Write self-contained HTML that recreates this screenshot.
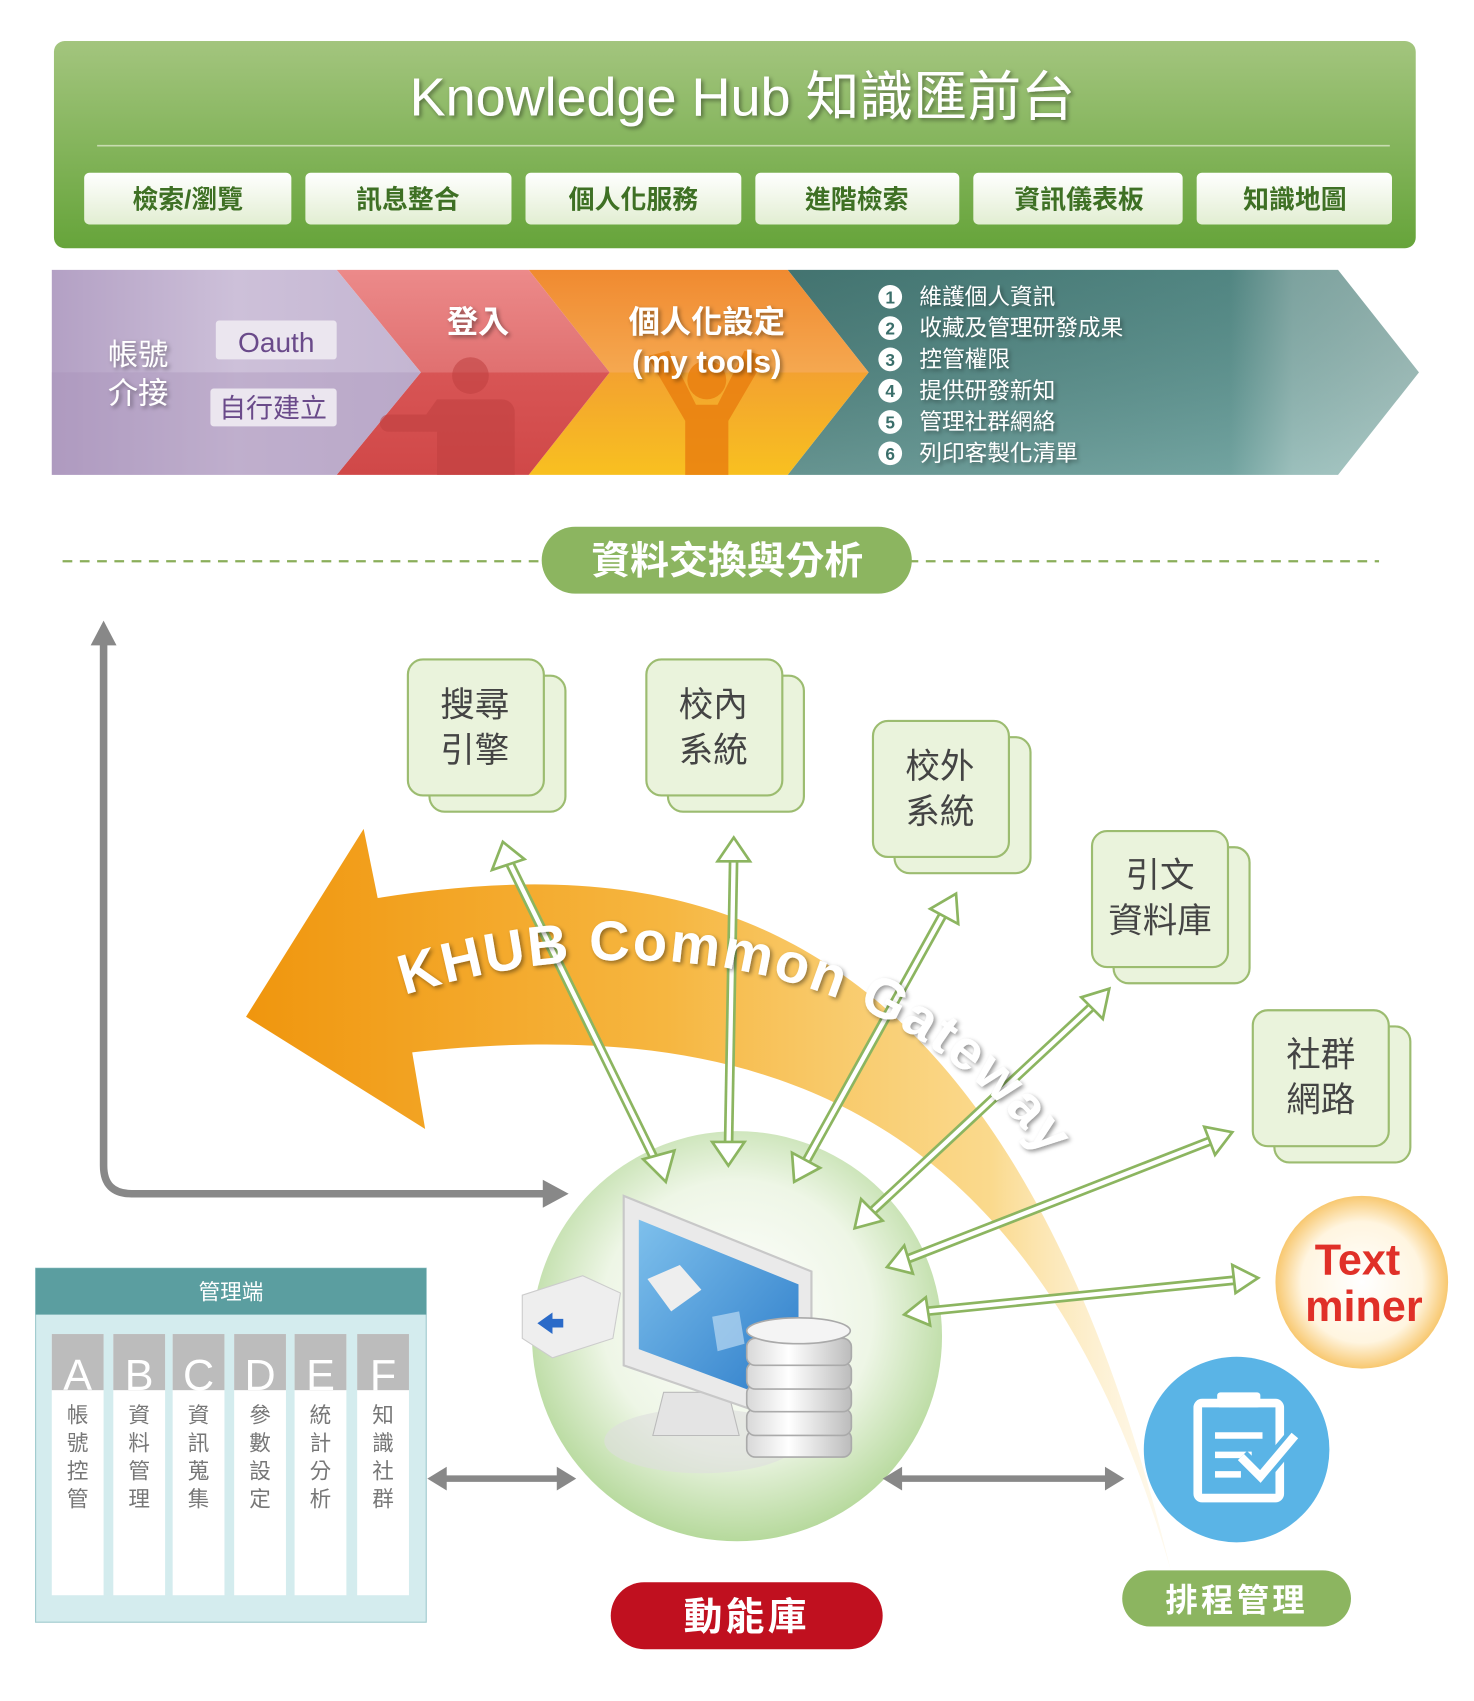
<!DOCTYPE html>
<html><head><meta charset="utf-8">
<style>
html,body{margin:0;padding:0;background:#fff;}
svg{display:block;}
text{font-family:"Liberation Sans","Noto Sans CJK TC",sans-serif;}
</style></head>
<body>
<svg width="1474" height="1701" viewBox="0 0 1366 1576" preserveAspectRatio="none" xmlns="http://www.w3.org/2000/svg">
<defs>
<linearGradient id="hdr" x1="0" y1="0" x2="0" y2="1"><stop offset="0" stop-color="#a3c57e"/><stop offset="1" stop-color="#66a43a"/></linearGradient>
<linearGradient id="btn" x1="0" y1="0" x2="0" y2="1"><stop offset="0" stop-color="#ffffff"/><stop offset="1" stop-color="#e2eed2"/></linearGradient>
<linearGradient id="pur" x1="0" y1="0" x2="1" y2="0"><stop offset="0" stop-color="#b3a0c4"/><stop offset="0.5" stop-color="#cdc0d9"/><stop offset="1" stop-color="#c4b6d2"/></linearGradient>
<linearGradient id="red" x1="0" y1="0" x2="0" y2="1"><stop offset="0" stop-color="#ec8a8a"/><stop offset="0.5" stop-color="#e07070"/><stop offset="0.5" stop-color="#d85555"/><stop offset="1" stop-color="#d04848"/></linearGradient>
<linearGradient id="org" x1="0" y1="0" x2="0" y2="1"><stop offset="0" stop-color="#f08a30"/><stop offset="0.5" stop-color="#f5a850"/><stop offset="0.5" stop-color="#f3a230"/><stop offset="1" stop-color="#f8c020"/></linearGradient>
<linearGradient id="teal" x1="0" y1="0" x2="1" y2="0"><stop offset="0" stop-color="#4a807c"/><stop offset="0.7" stop-color="#5a9490"/><stop offset="0.8" stop-color="#8ab4b0"/><stop offset="1" stop-color="#9ec0bc"/></linearGradient>
<linearGradient id="tealv" x1="0" y1="0" x2="0" y2="1"><stop offset="0" stop-color="#000" stop-opacity="0.1"/><stop offset="1" stop-color="#fff" stop-opacity="0.15"/></linearGradient>
<linearGradient id="arc" x1="230" y1="0" x2="1090" y2="0" gradientUnits="userSpaceOnUse"><stop offset="0" stop-color="#f0960e"/><stop offset="0.45" stop-color="#f6b640"/><stop offset="0.8" stop-color="#f9d070" stop-opacity="0.8"/><stop offset="1" stop-color="#fdf0d0" stop-opacity="0.3"/></linearGradient>
<radialGradient id="sph" cx="0.5" cy="0.45" r="0.55"><stop offset="0" stop-color="#ffffff"/><stop offset="0.6" stop-color="#eef6e6"/><stop offset="1" stop-color="#b6d99c"/></radialGradient>
<radialGradient id="tm" cx="0.5" cy="0.5" r="0.5"><stop offset="0" stop-color="#ffffff"/><stop offset="0.7" stop-color="#fff5e0"/><stop offset="1" stop-color="#f8c870"/></radialGradient>
<linearGradient id="scr" x1="0" y1="0" x2="1" y2="1"><stop offset="0" stop-color="#7ec0ec"/><stop offset="1" stop-color="#2a7ac8"/></linearGradient>
<linearGradient id="db" x1="0" y1="0" x2="1" y2="0"><stop offset="0" stop-color="#d8d8d8"/><stop offset="0.4" stop-color="#ffffff"/><stop offset="1" stop-color="#bcbcbc"/></linearGradient>
<filter id="sh" x="-10%" y="-20%" width="120%" height="140%"><feDropShadow dx="2" dy="2" stdDeviation="2" flood-color="#000" flood-opacity="0.4"/></filter>
<path id="tp" d="M 375,922 C 600,850 870,890 1000,1120"/>
</defs>

<rect x="50" y="38" width="1262" height="192" rx="10" fill="url(#hdr)"/>
<text x="688" y="107" font-size="50" fill="#fff" text-anchor="middle" filter="url(#sh)">Knowledge Hub  知識匯前台</text>
<line x1="90" y1="135" x2="1288" y2="135" stroke="#c8dcb0" stroke-width="1.5"/>
<g font-size="24" font-weight="bold" fill="#3e7024" text-anchor="middle">
<rect x="78" y="160" width="192" height="48" rx="5" fill="url(#btn)"/><text x="174" y="193">檢索/瀏覽</text>
<rect x="283" y="160" width="191" height="48" rx="5" fill="url(#btn)"/><text x="378" y="193">訊息整合</text>
<rect x="487" y="160" width="200" height="48" rx="5" fill="url(#btn)"/><text x="587" y="193">個人化服務</text>
<rect x="700" y="160" width="189" height="48" rx="5" fill="url(#btn)"/><text x="794" y="193">進階檢索</text>
<rect x="902" y="160" width="194" height="48" rx="5" fill="url(#btn)"/><text x="1000" y="193">資訊儀表板</text>
<rect x="1109" y="160" width="181" height="48" rx="5" fill="url(#btn)"/><text x="1200" y="193">知識地圖</text>
</g>

<polygon points="730,250 1240,250 1315,345 1240,440 730,440 805,345" fill="url(#teal)"/>
<polygon points="730,250 1240,250 1315,345 1240,440 730,440 805,345" fill="url(#tealv)"/>
<polygon points="490,250 730,250 805,345 730,440 490,440 565,345" fill="url(#org)"/>
<polygon points="312,250 490,250 565,345 490,440 312,440 390,345" fill="url(#red)"/>
<polygon points="48,250 312,250 390,345 312,440 48,440" fill="url(#pur)"/>
<polygon points="48,345 390,345 312,440 48,440" fill="#a58fb8" opacity="0.35"/>
<g fill="#c04040" opacity="0.55"><circle cx="436" cy="348" r="17"/><path d="M405,370 h60 a12 12 0 0 1 12 12 v58 h-72 v-40 h-45 a8 8 0 0 1 0 -16 h35 z"/></g>
<g fill="#ea8010" opacity="0.85"><circle cx="655" cy="352" r="18"/><path d="M600,330 l20,-5 l25,50 h20 l25,-50 l20,5 l-35,60 v50 h-40 v-50 z"/></g>
<g fill="#fff" font-size="28" text-anchor="middle" filter="url(#sh)">
<text x="128" y="338">帳號</text><text x="128" y="374">介接</text></g>
<rect x="200" y="297" width="112" height="36" rx="3" fill="#ebe6ef"/>
<rect x="195" y="360" width="117" height="35" rx="3" fill="#ebe6ef"/>
<text x="256" y="326" font-size="26" fill="#6a4a8a" text-anchor="middle">Oauth</text>
<text x="253" y="387" font-size="25" fill="#6a4a8a" text-anchor="middle">自行建立</text>
<g fill="#fff" font-size="29" text-anchor="middle" font-weight="bold" filter="url(#sh)">
<text x="443" y="308">登入</text><text x="655" y="308">個人化設定</text><text x="655" y="345">(my tools)</text></g>
<g font-size="21" fill="#fff">
<g fill="#fff"><circle cx="825" cy="275" r="11"/><circle cx="825" cy="304" r="11"/><circle cx="825" cy="333" r="11"/><circle cx="825" cy="362" r="11"/><circle cx="825" cy="391" r="11"/><circle cx="825" cy="420" r="11"/></g>
<g fill="#3a6e6a" font-size="16" font-weight="bold" text-anchor="middle"><text x="825" y="281">1</text><text x="825" y="310">2</text><text x="825" y="339">3</text><text x="825" y="368">4</text><text x="825" y="397">5</text><text x="825" y="426">6</text></g>
<g filter="url(#sh)"><text x="852" y="282">維護個人資訊</text><text x="852" y="311">收藏及管理研發成果</text><text x="852" y="340">控管權限</text><text x="852" y="369">提供研發新知</text><text x="852" y="398">管理社群網絡</text><text x="852" y="427">列印客製化清單</text></g></g>

<line x1="58" y1="520" x2="1278" y2="520" stroke="#8aae5a" stroke-width="2" stroke-dasharray="9,7"/>
<rect x="502" y="488" width="343" height="62" rx="31" fill="#8cb560"/>
<text x="674" y="532" font-size="36" font-weight="bold" fill="#fff" text-anchor="middle">資料交換與分析</text>

<path d="M96,595 V1080 Q96,1106 122,1106 H505" fill="none" stroke="#888" stroke-width="7"/>
<polygon points="96,575 84,598 108,598" fill="#888"/>
<polygon points="527,1106 503,1093 503,1119" fill="#888"/>

<g fill="#eaf3dc" stroke="#9cbc70" stroke-width="2">
<rect x="398" y="626" width="126" height="126" rx="14"/><rect x="378" y="611" width="126" height="126" rx="14"/>
<rect x="619" y="626" width="126" height="126" rx="14"/><rect x="599" y="611" width="126" height="126" rx="14"/>
<rect x="829" y="683" width="126" height="126" rx="14"/><rect x="809" y="668" width="126" height="126" rx="14"/>
<rect x="1032" y="785" width="126" height="126" rx="14"/><rect x="1012" y="770" width="126" height="126" rx="14"/>
<rect x="1181" y="951" width="126" height="126" rx="14"/><rect x="1161" y="936" width="126" height="126" rx="14"/>
</g>
<g font-size="32" fill="#444" text-anchor="middle">
<text x="440" y="664">搜尋</text><text x="440" y="706">引擎</text>
<text x="661" y="664">校內</text><text x="661" y="706">系統</text>
<text x="871" y="721">校外</text><text x="871" y="763">系統</text>
<text x="1075" y="822">引文</text><text x="1075" y="864">資料庫</text>
<text x="1224" y="988">社群</text><text x="1224" y="1030">網路</text>
</g>

<circle cx="683" cy="1238" r="190" fill="url(#sph)"/>

<path d="M350,832 C620,790 930,820 1085,1455 C960,1020 700,940 382,975 L394,1046 L228,942 L337,768 Z" fill="url(#arc)"/>

<g fill="none">
<g stroke="#8cb560" stroke-width="9">
<line x1="470" y1="795" x2="612" y2="1085"/><line x1="680" y1="788" x2="675" y2="1070"/><line x1="878" y1="840" x2="742" y2="1085"/>
<line x1="1020" y1="925" x2="800" y2="1130"/><line x1="1132" y1="1053" x2="832" y2="1170"/><line x1="1155" y1="1185" x2="848" y2="1216"/></g>
<g stroke="#fff" stroke-width="4">
<line x1="470" y1="795" x2="612" y2="1085"/><line x1="680" y1="788" x2="675" y2="1070"/><line x1="878" y1="840" x2="742" y2="1085"/>
<line x1="1020" y1="925" x2="800" y2="1130"/><line x1="1132" y1="1053" x2="832" y2="1170"/><line x1="1155" y1="1185" x2="848" y2="1216"/></g>
</g>
<g fill="#fff" stroke="#8cb560" stroke-width="2.5">
<polygon points="466,780 456,806 486,796"/><polygon points="617,1095 596,1074 625,1066"/>
<polygon points="680,776 665,798 695,798"/><polygon points="675,1080 660,1058 690,1058"/>
<polygon points="886,828 862,842 888,856"/><polygon points="736,1095 734,1068 760,1082"/>
<polygon points="1028,916 1002,924 1022,944"/><polygon points="792,1138 798,1111 818,1131"/>
<polygon points="1142,1049 1116,1044 1126,1070"/><polygon points="822,1174 838,1154 846,1180"/>
<polygon points="1166,1184 1142,1172 1145,1198"/><polygon points="838,1218 858,1202 862,1228"/>
</g>

<text font-size="52" fill="#fff" font-weight="bold" letter-spacing="2" filter="url(#sh)"><textPath href="#tp">KHUB Common Gateway</textPath></text>

<ellipse cx="650" cy="1335" rx="90" ry="30" fill="#ddd" opacity="0.6"/>
<path d="M615,1290 h60 l10,40 h-80 z" fill="#e4e4e4" stroke="#bbb"/>
<polygon points="578,1108 752,1178 752,1325 578,1265" fill="#eaeaea" stroke="#c8c8c8" stroke-width="2"/>
<polygon points="592,1130 740,1190 740,1305 592,1250" fill="url(#scr)"/>
<polygon points="600,1185 630,1172 650,1195 622,1215" fill="#eee"/>
<polygon points="660,1220 685,1215 690,1245 665,1252" fill="#cde4f6" opacity="0.6"/>
<g>
<polygon points="484,1200 540,1182 575,1198 568,1240 512,1258 484,1240" fill="#eee" stroke="#ccc"/>
<polygon points="498,1226 512,1216 512,1222 522,1222 522,1230 512,1230 512,1236" fill="#2a6ac8"/>
</g>
<g fill="url(#db)" stroke="#aaa" stroke-width="1.5">
<rect x="692" y="1325" width="97" height="25" rx="8"/>
<rect x="692" y="1305" width="97" height="25" rx="8"/>
<rect x="692" y="1283" width="97" height="25" rx="8"/>
<rect x="692" y="1262" width="97" height="25" rx="8"/>
<rect x="692" y="1240" width="97" height="25" rx="8"/>
<ellipse cx="740" cy="1233" rx="48" ry="12" fill="#f4f4f4"/>
</g>

<circle cx="1262" cy="1188" r="80" fill="url(#tm)"/>
<text x="1258" y="1181" font-size="40" font-weight="bold" fill="#e03028" text-anchor="middle">Text</text>
<text x="1264" y="1224" font-size="40" font-weight="bold" fill="#e03028" text-anchor="middle">miner</text>

<circle cx="1146" cy="1343" r="86" fill="#5ab4e6"/>
<rect x="1110" y="1300" width="76" height="88" rx="4" fill="none" stroke="#fff" stroke-width="8"/>
<rect x="1128" y="1290" width="40" height="14" rx="3" fill="#fff"/>
<g stroke="#fff" stroke-width="6"><line x1="1126" y1="1330" x2="1170" y2="1330"/><line x1="1126" y1="1348" x2="1160" y2="1348"/><line x1="1126" y1="1366" x2="1150" y2="1366"/></g>
<polyline points="1150,1350 1168,1368 1200,1330" fill="none" stroke="#5ab4e6" stroke-width="16"/>
<polyline points="1150,1350 1168,1368 1200,1330" fill="none" stroke="#fff" stroke-width="8"/>

<rect x="1040" y="1455" width="212" height="52" rx="26" fill="#8cb560"/>
<text x="1146" y="1493" font-size="30" font-weight="bold" fill="#fff" text-anchor="middle" letter-spacing="3">排程管理</text>
<rect x="566" y="1466" width="252" height="62" rx="31" fill="#c0101f"/>
<text x="692" y="1510" font-size="36" font-weight="bold" fill="#fff" text-anchor="middle" letter-spacing="3">動能庫</text>

<g stroke="#888" stroke-width="6"><line x1="410" y1="1370" x2="520" y2="1370"/><line x1="832" y1="1370" x2="1028" y2="1370"/></g>
<g fill="#888"><polygon points="396,1370 414,1359 414,1381"/><polygon points="534,1370 516,1359 516,1381"/><polygon points="818,1370 836,1359 836,1381"/><polygon points="1042,1370 1024,1359 1024,1381"/></g>

<rect x="33" y="1175" width="362" height="328" fill="#d4ecee" stroke="#9cc8cc"/>
<rect x="33" y="1175" width="362" height="43" fill="#5b9ea0"/>
<text x="214" y="1204" font-size="20" fill="#fff" text-anchor="middle">管理端</text>
<g>
<g fill="#fff"><rect x="48" y="1236" width="48" height="242"/><rect x="105" y="1236" width="48" height="242"/><rect x="160" y="1236" width="48" height="242"/><rect x="217" y="1236" width="48" height="242"/><rect x="273" y="1236" width="48" height="242"/><rect x="331" y="1236" width="48" height="242"/></g>
<g fill="#bcbcbc"><rect x="48" y="1236" width="48" height="52"/><rect x="105" y="1236" width="48" height="52"/><rect x="160" y="1236" width="48" height="52"/><rect x="217" y="1236" width="48" height="52"/><rect x="273" y="1236" width="48" height="52"/><rect x="331" y="1236" width="48" height="52"/></g>
<g font-size="40" fill="#fff" text-anchor="middle"><text x="72" y="1288">A</text><text x="129" y="1288">B</text><text x="184" y="1288">C</text><text x="241" y="1288">D</text><text x="297" y="1288">E</text><text x="355" y="1288">F</text></g>
<g font-size="20" fill="#777" text-anchor="middle">
<text x="72" y="1318">帳</text><text x="72" y="1344">號</text><text x="72" y="1370">控</text><text x="72" y="1396">管</text>
<text x="129" y="1318">資</text><text x="129" y="1344">料</text><text x="129" y="1370">管</text><text x="129" y="1396">理</text>
<text x="184" y="1318">資</text><text x="184" y="1344">訊</text><text x="184" y="1370">蒐</text><text x="184" y="1396">集</text>
<text x="241" y="1318">參</text><text x="241" y="1344">數</text><text x="241" y="1370">設</text><text x="241" y="1396">定</text>
<text x="297" y="1318">統</text><text x="297" y="1344">計</text><text x="297" y="1370">分</text><text x="297" y="1396">析</text>
<text x="355" y="1318">知</text><text x="355" y="1344">識</text><text x="355" y="1370">社</text><text x="355" y="1396">群</text>
</g></g>
</svg>
</body></html>
